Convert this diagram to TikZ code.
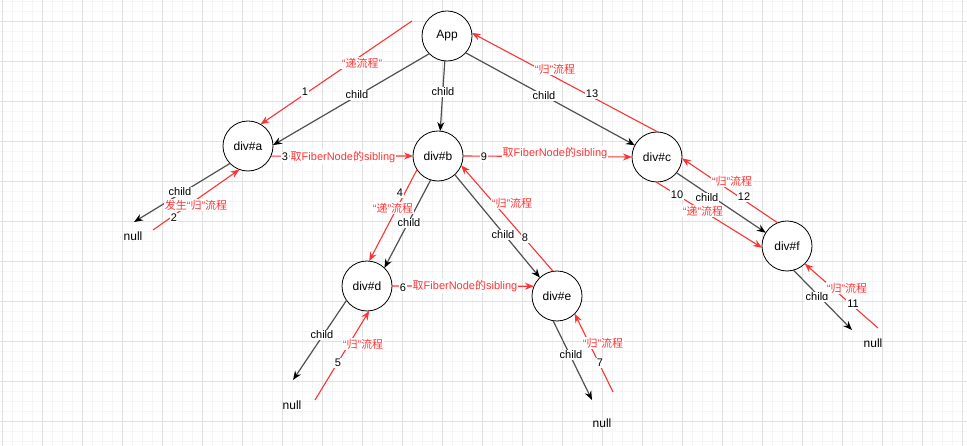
\documentclass[tikz,border=0pt]{standalone}
\usepackage{fontspec}
\setmainfont{Liberation Sans}
\newfontfamily\cjk{Noto Sans CJK SC}
\usetikzlibrary{arrows.meta}
\definecolor{rd}{RGB}{255,51,51}
\definecolor{ln}{RGB}{80,80,80}
\definecolor{gmaj}{RGB}{224,224,224}
\definecolor{gmin}{RGB}{245,245,245}
\newcommand{\zh}[1]{{\cjk #1}}
\begin{document}
\begin{tikzpicture}[x=1pt,y=-1pt,
  fnode/.style={circle,draw=black,line width=0.8pt,fill=white,minimum size=50pt,inner sep=0pt,outer sep=0pt,font=\fontsize{12}{14}\selectfont},
  nulltxt/.style={font=\fontsize{12}{14}\selectfont,inner sep=0pt},
  childarrow/.style={draw=ln,line width=1.2pt,-{Stealth[length=9pt,width=7pt,color=black]}},
  redarrow/.style={draw=rd,line width=1.1pt,-{Stealth[length=9pt,width=7pt,color=rd]}},
  blab/.style={fill=white,inner sep=0.8pt,font=\fontsize{11}{13}\selectfont},
  rlab/.style={fill=white,inner sep=0.8pt,text=rd,font=\fontsize{11}{13}\selectfont},
]
\useasboundingbox (0,0) rectangle (967,446);
\fill[white] (0,0) rectangle (967,446);
% grid
\foreach \x in {2,12,...,962} \draw[gmin,line width=0.6pt] (\x,0) -- (\x,446);
\foreach \y in {1,11,...,441} \draw[gmin,line width=0.6pt] (0,\y) -- (967,\y);
\foreach \x in {2,42,...,962} \draw[gmaj,line width=0.8pt] (\x,0) -- (\x,446);
\foreach \y in {21,61,...,421} \draw[gmaj,line width=0.8pt] (0,\y) -- (967,\y);

% fiber nodes
\node[fnode] (App) at (447,36) {App};
\node[fnode] (a) at (248,146) {div\#a};
\node[fnode] (b) at (438,156) {div\#b};
\node[fnode] (c) at (657,157) {div\#c};
\node[fnode] (d) at (367,286) {div\#d};
\node[fnode] (e) at (557,296) {div\#e};
\node[fnode] (f) at (787,246) {div\#f};

% null texts
\node[nulltxt] (na) at (133,236) {null};
\node[nulltxt] (nd) at (292,405) {null};
\node[nulltxt] (ne) at (602,423) {null};
\node[nulltxt] (nf) at (873,343) {null};

% free ends
\coordinate (ca) at (134,222);
\coordinate (cd) at (293,380);
\coordinate (ce) at (592,400);
\coordinate (cf) at (852,330);
\coordinate (r1s) at (412,21);
\coordinate (r2s) at (153,230);
\coordinate (r5s) at (315,400);
\coordinate (r7s) at (613,392);
\coordinate (r11s) at (878,328);

% child connectors
\draw[childarrow] (App.225) -- (a.2);
\draw[childarrow] (App.265) -- (b.85);
\draw[childarrow] (App.318) -- (c.152);
\draw[childarrow] (a.224) -- (ca);
\draw[childarrow] (b.253) -- (d.46);
\draw[childarrow] (b.312) -- (e.133);
\draw[childarrow] (c.321) -- (f.148);
\draw[childarrow] (d.215) -- (cd);
\draw[childarrow] (e.261) -- (ce);
\draw[childarrow] (f.285) -- (cf);

% red flow connectors
\draw[redarrow] (r1s) -- (a.60);
\draw[redarrow] (r2s) -- (a.250);
\draw[redarrow] (a.-24) -- (b.180);
\draw[redarrow] (b.213) -- (d.85);
\draw[redarrow] (r5s) -- (d.275);
\draw[redarrow] (d.0) -- (e.157);
\draw[redarrow] (r7s) -- (e.315);
\draw[redarrow] (e.99) -- (b.338);
\draw[redarrow] (b.0) -- (c.180);
\draw[redarrow] (c.268) -- (f.184);
\draw[redarrow] (r11s) -- (f.315);
\draw[redarrow] (f.112) -- (c.-3);
\draw[redarrow] (c.88) -- (App.7);

% child labels
\node[blab] (k1) at (357,95) {child};
\node[blab] (k2) at (443,92) {child};
\node[blab] (k3) at (544,96) {child};
\node[blab] (k4) at (180,192) {child};
\node[blab] (k5) at (409,223) {child};
\node[blab] (k6) at (503,235) {child};
\node[blab] (k7) at (707,198) {child};
\node[blab] (k8) at (322,335) {child};
\node[blab] (k9) at (571,355) {child};
\node[blab] (k10) at (817,297) {child};

% red labels and step numbers
\node[rlab] (t1) at (362,63) {“\zh{递流程}”};
\node[blab] (s1) at (305,92) {1};
\node[rlab] (t2) at (196,205) {\zh{发生}“\zh{归}”\zh{流程}};
\node[blab] (s2) at (174,218) {2};
\node[blab] (s3) at (285,157) {3};
\node[rlab] (t3) at (343,157) {\zh{取}FiberNode\zh{的}sibling};
\node[blab] (s4) at (400,193) {4};
\node[rlab] (t4) at (393,208) {“\zh{递}”\zh{流程}};
\node[rlab] (t5) at (363,344) {“\zh{归}”\zh{流程}};
\node[blab] (s5) at (338,363) {5};
\node[blab] (s6) at (403,288) {6};
\node[rlab] (t6) at (465,286) {\zh{取}FiberNode\zh{的}sibling};
\node[rlab] (t7) at (603,343) {“\zh{归}”\zh{流程}};
\node[blab] (s7) at (600,363) {7};
\node[rlab] (t8) at (512,203) {“\zh{归}”\zh{流程}};
\node[blab] (s8) at (525,238) {8};
\node[blab] (s9) at (484,157) {9};
\node[rlab] (t9) at (555,153) {\zh{取}FiberNode\zh{的}sibling};
\node[blab] (s10) at (677,195) {10};
\node[rlab] (t10) at (703,211) {“\zh{递}”\zh{流程}};
\node[rlab] (t11) at (847,288) {“\zh{归}”\zh{流程}};
\node[blab] (s11) at (853,304) {11};
\node[rlab] (t12) at (732,181) {“\zh{归}”\zh{流程}};
\node[blab] (s12) at (744,197) {12};
\node[rlab] (t13) at (555,69) {“\zh{归}”\zh{流程}};
\node[blab] (s13) at (592,94) {13};
\end{tikzpicture}
\end{document}
